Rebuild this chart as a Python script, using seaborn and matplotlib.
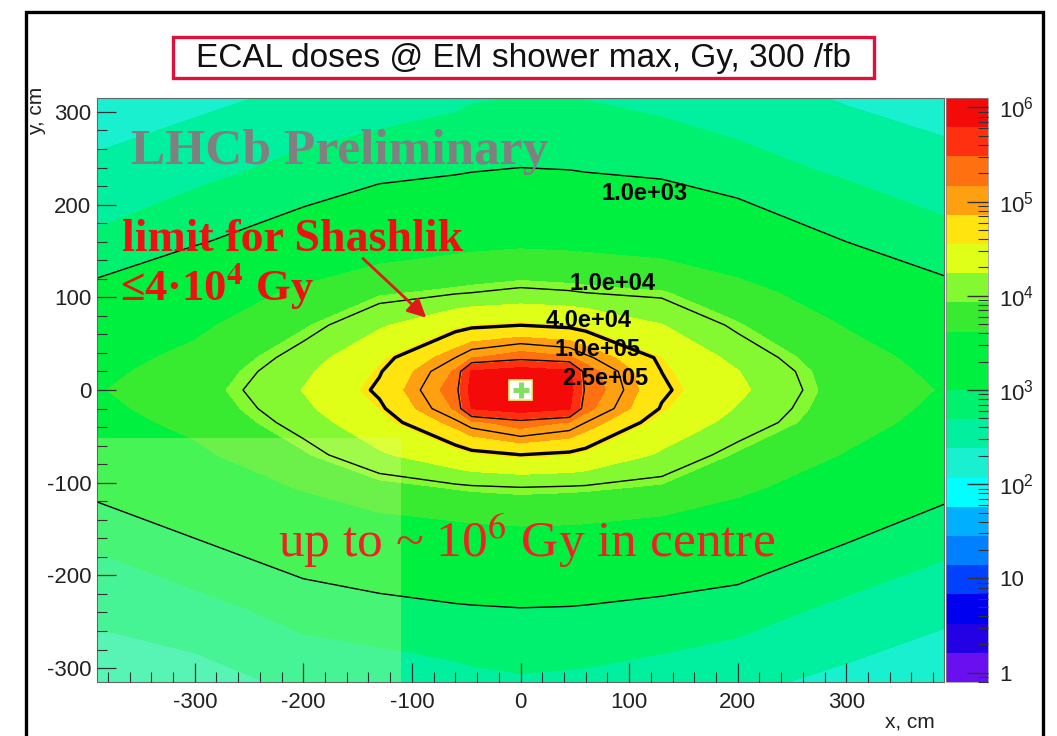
import numpy as np
import matplotlib
matplotlib.use("Agg")
import matplotlib.pyplot as plt
import seaborn as sns
from matplotlib.colors import ListedColormap, BoundaryNorm
from matplotlib.cm import ScalarMappable
from matplotlib.patches import Rectangle
from matplotlib.ticker import MultipleLocator, FixedLocator

# dose map nodes (cm)
x_nodes = [-390, -300, -200, -130, -60, -45, 0, 45, 60, 130, 200, 300, 390]
y_nodes = [-315, -235, -160, -105, -70, -35, -20, 0, 20, 35, 70, 105, 160, 235, 315]

# log10(dose / Gy), one row per y node (bottom -> top)
log_dose = [
    [2.20, 2.25, 2.45, 2.50, 2.58, 2.61, 2.65, 2.63, 2.62, 2.55, 2.45, 2.30, 2.20],
    [2.45, 2.58, 2.82, 2.90, 2.97, 2.98, 3.00, 2.99, 2.98, 2.92, 2.85, 2.62, 2.45],
    [2.75, 3.00, 3.25, 3.38, 3.45, 3.47, 3.50, 3.49, 3.48, 3.40, 3.30, 3.03, 2.80],
    [3.10, 3.35, 3.65, 3.85, 3.95, 3.97, 4.00, 3.98, 3.97, 3.90, 3.70, 3.40, 3.10],
    [3.35, 3.55, 3.90, 4.20, 4.45, 4.52, 4.60, 4.55, 4.50, 4.20, 3.90, 3.60, 3.35],
    [3.50, 3.70, 4.10, 4.45, 4.95, 5.10, 5.30, 5.15, 5.00, 4.45, 4.15, 3.75, 3.50],
    [3.55, 3.75, 4.18, 4.55, 5.20, 5.80, 5.98, 5.82, 5.25, 4.58, 4.22, 3.78, 3.55],
    [3.60, 3.80, 4.25, 4.65, 5.30, 5.92, 6.20, 5.92, 5.35, 4.65, 4.30, 3.80, 3.60],
    [3.55, 3.75, 4.18, 4.58, 5.20, 5.82, 5.98, 5.85, 5.30, 4.60, 4.25, 3.78, 3.55],
    [3.50, 3.70, 4.10, 4.50, 5.00, 5.15, 5.30, 5.20, 5.05, 4.55, 4.15, 3.75, 3.50],
    [3.35, 3.55, 3.90, 4.20, 4.50, 4.55, 4.60, 4.55, 4.50, 4.25, 3.95, 3.60, 3.35],
    [3.10, 3.35, 3.70, 3.90, 3.98, 4.00, 4.05, 4.02, 4.00, 3.95, 3.75, 3.40, 3.10],
    [2.75, 2.97, 3.20, 3.40, 3.50, 3.52, 3.55, 3.53, 3.52, 3.45, 3.30, 3.00, 2.80],
    [2.45, 2.60, 2.80, 2.92, 2.98, 3.00, 3.02, 3.01, 3.00, 2.95, 2.82, 2.65, 2.50],
    [2.20, 2.30, 2.45, 2.52, 2.62, 2.66, 2.70, 2.69, 2.68, 2.60, 2.52, 2.35, 2.25],
]

# contour lines drawn on top (Gy)
line_levels = [1.0e3, 1.0e4, 4.0e4, 1.0e5, 2.5e5]
line_widths = [1.0, 1.0, 2.4, 1.0, 1.0]
label_pos = [(114, 212), (85, 115), (63, 75), (71, 44), (78, 12)]

# ROOT-like palette, 20 bands from 1 Gy to 1e6 Gy
band_colors = ["#6A10F0", "#2400E4", "#0000F0", "#0040FF", "#0080FF",
               "#00B0FF", "#00FFFF", "#18F0D0", "#00F0A0", "#00F070",
               "#00F040", "#00F040", "#38EA30", "#84F830", "#E0FF18",
               "#FFE410", "#FFA010", "#FF7010", "#FF3010", "#F50A0A"]
band_edges = np.linspace(-0.1, 6.1, 21)

sns.set_theme(style="white")
plt.rcParams["font.family"] = ["Liberation Sans", "DejaVu Sans"]
plt.rcParams["mathtext.fontset"] = "custom"
plt.rcParams["mathtext.rm"] = "Liberation Sans"
plt.rcParams["mathtext.it"] = "Liberation Sans:italic"
plt.rcParams["mathtext.bf"] = "Liberation Sans:bold"
plt.rcParams["axes.unicode_minus"] = False

fig = plt.figure(figsize=(10.57, 7.36), dpi=100)
ax = fig.add_axes([0.0918, 0.0734, 0.8013, 0.7934])
cax = fig.add_axes([0.895, 0.0734, 0.040, 0.7934])
ax.set_axisbelow(False)
cax.set_axisbelow(False)

cmap = ListedColormap(band_colors)
cmap.set_over(band_colors[-1])
norm = BoundaryNorm(band_edges, cmap.N)

X, Y = np.meshgrid(x_nodes, y_nodes)
Z = np.array(log_dose)
ax.contourf(X, Y, Z, levels=band_edges, cmap=cmap, norm=norm, extend="max", zorder=1)

# lighter patch in the lower left part of the picture
ax.add_patch(Rectangle((-390, -315), 280, 263, fc="#D8FF80", ec="none", alpha=0.33, zorder=1.5))

cs = ax.contour(X, Y, Z, levels=np.log10(line_levels), colors="black",
                linewidths=line_widths, zorder=2)
for v, (lx, ly) in zip(line_levels, label_pos):
    ax.text(lx, ly, f"{v:.1e}", ha="center", va="center", fontsize=17,
            fontweight="bold", color="black", zorder=4)

# beam hole
ax.add_patch(Rectangle((-11, -11), 22, 22, fc="white", ec="#E8F070", lw=1.2, zorder=3))
ax.plot([0], [0], marker="+", color="#80E060", ms=12, mew=3.5, zorder=3.5)

ax.set_xlim(-390, 390)
ax.set_ylim(-315, 315)
ax.set_xticks(range(-300, 301, 100))
ax.set_yticks(range(-300, 301, 100))
ax.xaxis.set_minor_locator(MultipleLocator(20))
ax.yaxis.set_minor_locator(MultipleLocator(20))
ax.tick_params(which="major", direction="in", length=14, width=0.9, color="#333333",
               labelsize=16, labelcolor="#222222", bottom=True, left=True, top=False, right=False)
ax.tick_params(axis="x", which="major", pad=7)
ax.tick_params(axis="y", which="major", pad=4)
ax.tick_params(which="minor", direction="in", length=7, width=0.8, color="#333333",
               bottom=True, left=True, top=False, right=False)
for sp in ax.spines.values():
    sp.set_color("#666666")
    sp.set_linewidth(0.8)

ax.text(0.989, -0.068, "x, cm", transform=ax.transAxes, ha="right", va="center",
        fontsize=15, color="#222222")
ax.text(-0.072, 1.02, "y, cm", transform=ax.transAxes, ha="center", va="top",
        rotation=90, fontsize=15, color="#222222")

serif = ["Liberation Serif", "DejaVu Serif"]
ax.text(-359, 244, "LHCb Preliminary", family=serif, fontweight="bold", fontsize=37,
        color="#808080", ha="left", va="baseline", zorder=4)
ax.text(-367, 150, "limit for Shashlik", family=serif, fontweight="bold", fontsize=33,
        color="#EE1111", ha="left", va="baseline", zorder=4)
ax.text(-369, 96, "≤4·10$^{\\mathbf{4}}$ Gy", family=serif, fontweight="bold", fontsize=32,
        color="#EE1111", ha="left", va="baseline", math_fontfamily="stix", zorder=4)
ax.text(-223, -180, "up to ~ 10$^{6}$ Gy in centre", family=serif, fontsize=37,
        color="#EE2222", ha="left", va="baseline", math_fontfamily="stix", zorder=4)
ax.annotate("", xy=(-85, 76), xytext=(-147, 144),
            arrowprops=dict(arrowstyle="-|>", color="#E01818", lw=2, mutation_scale=28),
            zorder=4)

# colour bar
sm = ScalarMappable(norm=norm, cmap=cmap)
cb = fig.colorbar(sm, cax=cax, spacing="proportional")
cb.outline.set_linewidth(0.5)
cb.outline.set_edgecolor("#888888")
cax.yaxis.set_major_locator(FixedLocator([0, 1, 2, 3, 4, 5, 6]))
cax.set_yticklabels(["1", "10", "$10^{2}$", "$10^{3}$", "$10^{4}$", "$10^{5}$", "$10^{6}$"])
minor = [np.log10(k * 10.0 ** n) for n in range(-1, 6) for k in range(2, 10)]
minor = [m for m in minor if -0.1 < m < 6.1]
cax.yaxis.set_minor_locator(FixedLocator(minor))
cax.tick_params(which="major", direction="in", length=15, width=1.0, color="#333333",
                labelsize=16, labelcolor="#222222", pad=8, right=True, left=False)
cax.tick_params(which="minor", direction="in", length=7, width=0.8, color="#333333",
                right=True, left=False)
cax.set_ylim(-0.1, 6.1)

# title box and slide frame
fig.patches.append(Rectangle((0.1637, 0.894), 0.6632, 0.056, transform=fig.transFigure,
                             fill=False, ec="#E0103C", lw=2.4))
fig.text(0.495, 0.921, "ECAL doses @ EM shower max, Gy, 300 /fb", ha="center", va="center",
         fontsize=24, color="#111111")
fig.patches.append(Rectangle((0.0246, -0.02), 0.962, 1.0037, transform=fig.transFigure,
                             fill=False, ec="black", lw=2.4))

fig.savefig("out.png", dpi=100, facecolor="white")
